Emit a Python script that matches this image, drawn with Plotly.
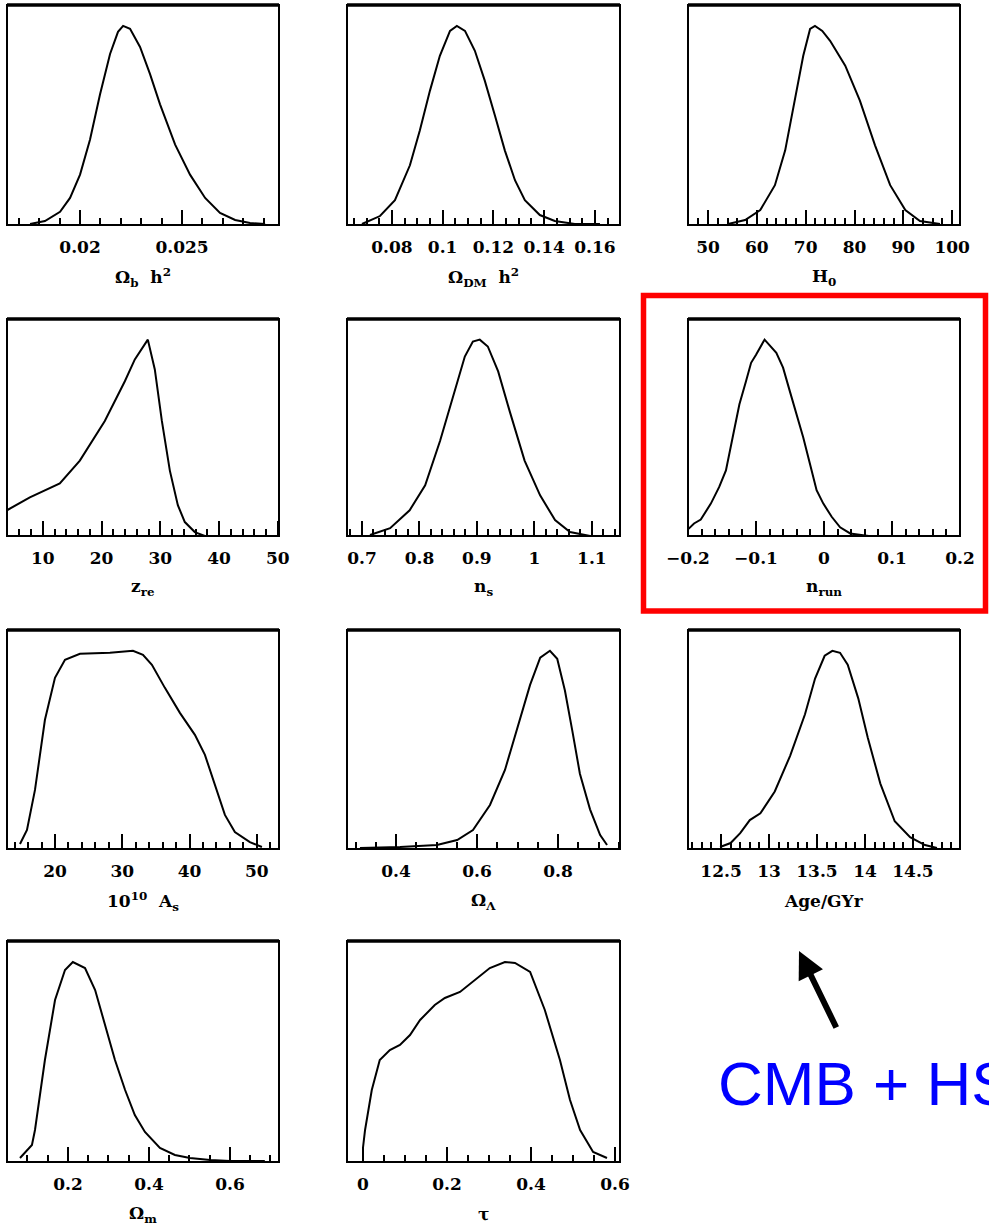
import plotly.graph_objects as go

W, H = 989, 1226

# ---- marginalised likelihoods (peak-normalised) ----
omb_h2 = [0.01755, 0.01828, 0.01902, 0.01951, 0.0200, 0.02049, 0.02098, 0.02147, 0.02186, 0.02211,
          0.02245, 0.02294, 0.02343, 0.02392, 0.02466, 0.02539, 0.02613, 0.02686, 0.02760, 0.02833, 0.02907]
omb_h2_like = [0.005, 0.020, 0.066, 0.136, 0.253, 0.429, 0.657, 0.859, 0.970, 1.0,
               0.985, 0.894, 0.758, 0.606, 0.404, 0.253, 0.136, 0.061, 0.025, 0.010, 0.005]

omdm_h2 = [0.0682, 0.0753, 0.0812, 0.0871, 0.0910, 0.0950, 0.0989, 0.1029, 0.1056, 0.1088,
           0.1127, 0.1166, 0.1206, 0.1245, 0.1285, 0.1324, 0.1383, 0.1442, 0.1521, 0.1620]
omdm_h2_like = [0.005, 0.045, 0.125, 0.30, 0.475, 0.675, 0.85, 0.975, 1.0, 0.975,
                0.875, 0.725, 0.55, 0.375, 0.225, 0.125, 0.05, 0.02, 0.005, 0.005]

h0 = [54.1, 57.6, 60.7, 63.7, 65.8, 67.8, 69.5, 70.9, 71.9, 73.4, 75.0, 78.1, 81.1, 84.2, 87.3, 90.4, 93.4, 97.5]
h0_like = [0.005, 0.025, 0.075, 0.2, 0.375, 0.625, 0.85, 0.985, 1.0, 0.975, 0.925, 0.8, 0.625, 0.4, 0.2,
           0.075, 0.02, 0.005]

z_re = [3.9, 7.79, 12.89, 16.30, 20.55, 23.96, 25.66, 26.68, 27.87, 29.06, 30.26, 31.62, 32.98, 34.17, 35.87, 37.57]
z_re_like = [0.131, 0.197, 0.268, 0.384, 0.586, 0.788, 0.899, 0.949, 1.0, 0.848, 0.586, 0.333, 0.157,
             0.071, 0.020, 0.0]

n_s = [0.714, 0.749, 0.783, 0.810, 0.836, 0.862, 0.879, 0.893, 0.905, 0.919, 0.937, 0.957, 0.983,
       1.010, 1.036, 1.062, 1.097]
n_s_like = [0.005, 0.040, 0.131, 0.258, 0.485, 0.737, 0.914, 0.990, 1.0, 0.965, 0.838, 0.636, 0.384,
            0.207, 0.081, 0.020, 0.0]

n_run = [-0.2, -0.1911, -0.1812, -0.1664, -0.1541, -0.1442, -0.1343, -0.1244, -0.1146, -0.1072, -0.0997,
         -0.0874, -0.0701, -0.0602, -0.0504, -0.0405, -0.0306, -0.0207, -0.0109, -0.0010, 0.0113, 0.0237,
         0.0385, 0.0657]
n_run_like = [0.034, 0.064, 0.084, 0.165, 0.250, 0.334, 0.503, 0.671, 0.789, 0.882, 0.924, 1.0, 0.933,
              0.857, 0.739, 0.621, 0.503, 0.368, 0.233, 0.165, 0.098, 0.044, 0.013, 0.0]

a_s = [14.80, 15.84, 17.03, 18.51, 20.0, 21.49, 23.71, 28.17, 31.59, 33.08, 34.41, 36.34, 38.57, 40.80,
       42.29, 43.77, 45.26, 46.74, 48.97, 50.76]
a_s_like = [0.025, 0.096, 0.298, 0.652, 0.864, 0.955, 0.985, 0.990, 1.0, 0.980, 0.929, 0.813, 0.687, 0.576,
            0.475, 0.323, 0.172, 0.086, 0.035, 0.010]

om_lambda = [0.311, 0.410, 0.501, 0.551, 0.590, 0.632, 0.669, 0.701, 0.731, 0.756, 0.780, 0.798, 0.817,
             0.835, 0.854, 0.879, 0.904, 0.921]
om_lambda_like = [0.005, 0.010, 0.02, 0.045, 0.096, 0.222, 0.399, 0.626, 0.828, 0.965, 1.0, 0.96, 0.80,
                  0.60, 0.38, 0.20, 0.07, 0.02]

age = [12.49, 12.60, 12.70, 12.80, 12.91, 13.06, 13.22, 13.375, 13.48, 13.58, 13.66, 13.74, 13.82,
       13.93, 14.03, 14.16, 14.31, 14.47, 14.625, 14.75]
age_like = [0.01, 0.03, 0.08, 0.146, 0.18, 0.29, 0.47, 0.68, 0.86, 0.975, 1.0, 0.99, 0.93, 0.76, 0.56,
            0.33, 0.14, 0.06, 0.02, 0.005]

om_m = [0.0815, 0.111, 0.1185, 0.143, 0.168, 0.1926, 0.212, 0.242, 0.267, 0.291, 0.316, 0.341, 0.365,
        0.390, 0.427, 0.464, 0.501, 0.551, 0.600, 0.686]
om_m_like = [0.02, 0.085, 0.16, 0.51, 0.81, 0.96, 1.0, 0.97, 0.86, 0.685, 0.51, 0.36, 0.235, 0.15, 0.07,
             0.035, 0.02, 0.01, 0.005, 0.005]

tau = [0.0, 0.005, 0.021, 0.040, 0.064, 0.088, 0.112, 0.136, 0.171, 0.195, 0.231, 0.267, 0.302, 0.338,
       0.362, 0.398, 0.433, 0.469, 0.493, 0.517, 0.548, 0.581]
tau_like = [0.07, 0.16, 0.36, 0.51, 0.56, 0.585, 0.635, 0.71, 0.785, 0.82, 0.85, 0.91, 0.97, 1.0, 0.995,
            0.95, 0.76, 0.51, 0.31, 0.16, 0.05, 0.02]

# ---- tick labels ----
omb_ticks = [0.02, 0.025]
omdm_ticks = [0.08, 0.1, 0.12, 0.14, 0.16]
h0_ticks = [50, 60, 70, 80, 90, 100]
z_re_ticks = [10, 20, 30, 40, 50]
n_s_ticks = [0.7, 0.8, 0.9, 1, 1.1]
n_run_ticks = [-0.2, -0.1, 0, 0.1, 0.2]
a_s_ticks = [20, 30, 40, 50]
om_lambda_ticks = [0.4, 0.6, 0.8]
age_ticks = [12.5, 13, 13.5, 14, 14.5]
om_m_ticks = [0.2, 0.4, 0.6]
tau_ticks = [0, 0.2, 0.4, 0.6]

# panel layout in pixels: column x spans and row (top, bottom) spans
cols = [(7, 279), (347, 620), (688, 960)]
rows = [(5, 225), (319, 536), (630, 849), (941, 1162)]

panels = [
    # x, like, range, major ticks, labels, minor step, title
    (omb_h2, omb_h2_like, [0.01642, 0.02975], omb_ticks, ["0.02", "0.025"], 0.001,
     "Ω<sub>b</sub>  h<sup>2</sup>"),
    (omdm_h2, omdm_h2_like, [0.0623, 0.1699], omdm_ticks, ["0.08", "0.1", "0.12", "0.14", "0.16"], 0.005,
     "Ω<sub>DM</sub>  h<sup>2</sup>"),
    (h0, h0_like, [45.9, 101.6], h0_ticks, [str(v) for v in h0_ticks], 2, "H<sub>0</sub>"),
    (z_re, z_re_like, [3.9, 50.2], z_re_ticks, [str(v) for v in z_re_ticks], 2, "z<sub>re</sub>"),
    (n_s, n_s_like, [0.674, 1.149], n_s_ticks, ["0.7", "0.8", "0.9", "1", "1.1"], 0.02, "n<sub>s</sub>"),
    (n_run, n_run_like, [-0.2, 0.2], n_run_ticks, ["\u22120.2", "\u22120.1", "0", "0.1", "0.2"], 0.02,
     "n<sub>run</sub>"),
    (a_s, a_s_like, [12.87, 53.3], a_s_ticks, [str(v) for v in a_s_ticks], 2, "10<sup>10</sup>  A<sub>s</sub>"),
    (om_lambda, om_lambda_like, [0.279, 0.953], om_lambda_ticks, ["0.4", "0.6", "0.8"], 0.05,
     "Ω<sub>Λ</sub>"),
    (age, age_like, [12.156, 14.99], age_ticks, ["12.5", "13", "13.5", "14", "14.5"], 0.1, "Age/GYr"),
    (om_m, om_m_like, [0.0494, 0.721], om_m_ticks, ["0.2", "0.4", "0.6"], 0.05, "Ω<sub>m</sub>"),
    (tau, tau_like, [-0.038, 0.612], tau_ticks, ["0", "0.2", "0.4", "0.6"], 0.05, "τ"),
]

YMAX = 1.105
TICK_FONT = dict(family="DejaVu Serif", size=17, color="black", weight="bold")


def fx(px):
    return px / W


def fy(py):
    return 1 - py / H


fig = go.Figure()
shapes = []
annotations = []

for i, (xs, ys, xr, major, labels, minor_step, title) in enumerate(panels):
    r, c = divmod(i, 3)
    x0p, x1p = cols[c]
    topp, botp = rows[r]
    n = i + 1
    xa = "x" if n == 1 else f"x{n}"
    ya = "y" if n == 1 else f"y{n}"
    fig.add_trace(go.Scatter(x=xs, y=ys, mode="lines", xaxis=xa, yaxis=ya,
                             line=dict(color="black", width=2), showlegend=False, hoverinfo="skip"))

    # minor ticks over the full visible range
    start = minor_step * round(xr[0] / minor_step)
    minor_vals = []
    k = 0
    while True:
        v = round(start + k * minor_step, 6)
        if v > xr[1] + 1e-9:
            break
        if v >= xr[0] - 1e-9:
            minor_vals.append(v)
        k += 1

    axis_kw = dict(
        domain=[fx(x0p), fx(x1p)], range=xr, anchor=ya, automargin=False,
        tickmode="array", tickvals=major, ticktext=labels,
        ticks="inside", ticklen=15, tickwidth=1.5, tickcolor="black",
        minor=dict(tickmode="array", tickvals=minor_vals, ticks="inside", ticklen=7,
                   tickwidth=1.5, tickcolor="black", showgrid=False),
        showgrid=False, zeroline=False, showline=False,
        tickfont=TICK_FONT, ticklabelstandoff=10,
    )
    yaxis_kw = dict(domain=[fy(botp), fy(topp)], range=[0, YMAX], anchor=xa, automargin=False,
                    visible=False, showgrid=False, zeroline=False)
    fig.update_layout(**{("xaxis" if n == 1 else f"xaxis{n}"): axis_kw,
                         ("yaxis" if n == 1 else f"yaxis{n}"): yaxis_kw})

    # frame: thin sides and bottom, heavy top edge
    shapes.append(dict(type="rect", xref="paper", yref="paper",
                       x0=fx(x0p), x1=fx(x1p), y0=fy(botp), y1=fy(topp),
                       line=dict(color="black", width=2), layer="above"))
    shapes.append(dict(type="line", xref="paper", yref="paper",
                       x0=fx(x0p), x1=fx(x1p), y0=fy(topp), y1=fy(topp),
                       line=dict(color="black", width=3.5), layer="above"))

    annotations.append(dict(xref="paper", yref="paper", x=fx((x0p + x1p) / 2), y=fy(botp + 52),
                            text=title, showarrow=False, xanchor="center", yanchor="middle",
                            font=dict(family="DejaVu Serif", size=17, color="black", weight="bold")))

# highlight box around the running-index panel
shapes.append(dict(type="rect", xref="paper", yref="paper",
                   x0=fx(643.5), x1=fx(985.5), y0=fy(611), y1=fy(295.5),
                   line=dict(color="#ff0000", width=5.5)))

# arrow pointing at the age panel and the data-set label
annotations.append(dict(xref="paper", yref="paper", x=fx(799), y=fy(951), ax=38, ay=78,
                        showarrow=True, arrowhead=2, arrowsize=0.9, arrowwidth=6, arrowcolor="black",
                        text=""))
annotations.append(dict(xref="paper", yref="paper", x=fx(716), y=fy(1083), text="CMB + HST",
                        showarrow=False, xanchor="left", yanchor="middle",
                        font=dict(family="Liberation Sans", size=62, color="#0000ff")))

fig.update_layout(width=W, height=H, margin=dict(l=0, r=0, t=0, b=0, pad=0, autoexpand=False),
                  paper_bgcolor="white", plot_bgcolor="white",
                  shapes=shapes, annotations=annotations, showlegend=False)

fig.write_html("out.html")
